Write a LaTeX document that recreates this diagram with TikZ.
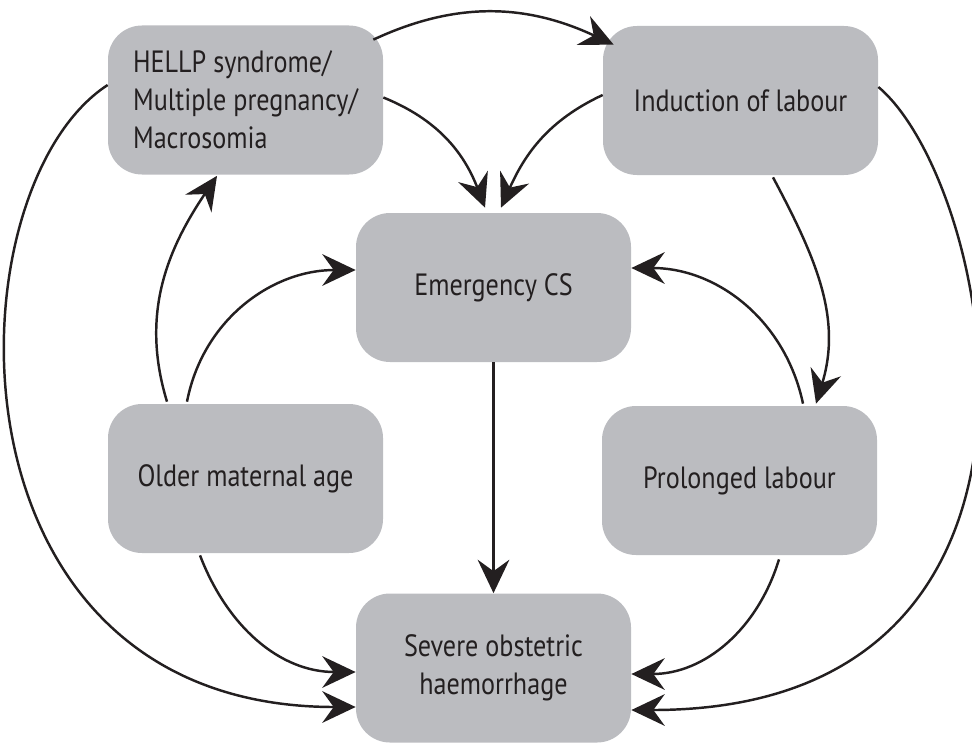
\documentclass[tikz,border=0pt]{standalone}
\usepackage{fontspec}
\setmainfont{PT Sans}[FakeStretch=0.85]
\usetikzlibrary{arrows.meta}
\definecolor{boxgray}{RGB}{187,188,192}
\definecolor{ink}{RGB}{35,31,32}
\tikzset{->,  % makes the edges directed
>={Stealth[length=19pt,width=18pt,inset=6.5pt]}, % large barbed heads
every node/.style={text=ink}, % dark text everywhere
box/.style={rectangle, rounded corners=0.68cm, fill=boxgray, minimum width=5.5cm, minimum height=2.98cm, align=center, font=\fontsize{17.5}{21.5}\selectfont}, % the grey boxes
}

\begin{document}
\begin{tikzpicture}
    \useasboundingbox (0,0) rectangle (19.44,14.88);
    \node[box, align=left] (hellp) at (4.91,12.88) {HELLP syndrome/\\Multiple pregnancy/\\Macrosomia};
    \node[box] (induct) at (14.81,12.87) {Induction of labour};
    \node[box] (emerg) at (9.87,9.13) {Emergency CS};
    \node[box] (older) at (4.91,5.31) {Older maternal age};
    \node[box] (prolong) at (14.79,5.27) {Prolonged labour};
    \node[box] (severe) at (9.87,1.52) {Severe obstetric\\haemorrhage};
    \draw[line width=1.4pt, ink, -, every edge/.append style={->}]
    ([shift={(-0.2,-0.29)}]hellp.north east) edge[out=25, in=155] ([shift={(0.22,-0.38)}]induct.north west)
    ([yshift=0.05cm]hellp.east) edge[out=-22, in=111] ([shift={(-0.17,0.1)}]emerg.north)
    ([yshift=0.11cm]induct.west) edge[out=205, in=66] ([shift={(0.15,0.1)}]emerg.north)
    ([shift={(0.65,-0.04)}]induct.south) edge[out=-62, in=73] ([shift={(1.53,0.04)}]prolong.north)
    ([shift={(1.27,0.04)}]prolong.north) edge[out=102, in=0] ([yshift=0.39cm]emerg.east)
    ([shift={(-1.17,0.04)}]older.north) edge[out=79, in=180] ([yshift=0.35cm]emerg.west)
    ([shift={(-1.57,0.04)}]older.north) edge[out=107, in=-124] ([shift={(-0.57,-0.02)}]hellp.south)
    (emerg) edge (severe)
    ([shift={(-0.91,-0.04)}]older.south) edge[out=-69, in=180] ([yshift=-0.08cm]severe.west)
    ([yshift=0.3cm]hellp.west) edge[out=213, in=180, out distance=3.8cm, in distance=8.4cm] ([yshift=-0.78cm]severe.west)
    ([shift={(0.79,-0.08)}]prolong.south) edge[out=-107, in=0] ([yshift=-0.12cm]severe.east)
    ([yshift=0.27cm]induct.east) edge[out=-40, in=0, out distance=3cm, in distance=9.4cm] ([yshift=-0.84cm]severe.east);
\end{tikzpicture}
\end{document}
